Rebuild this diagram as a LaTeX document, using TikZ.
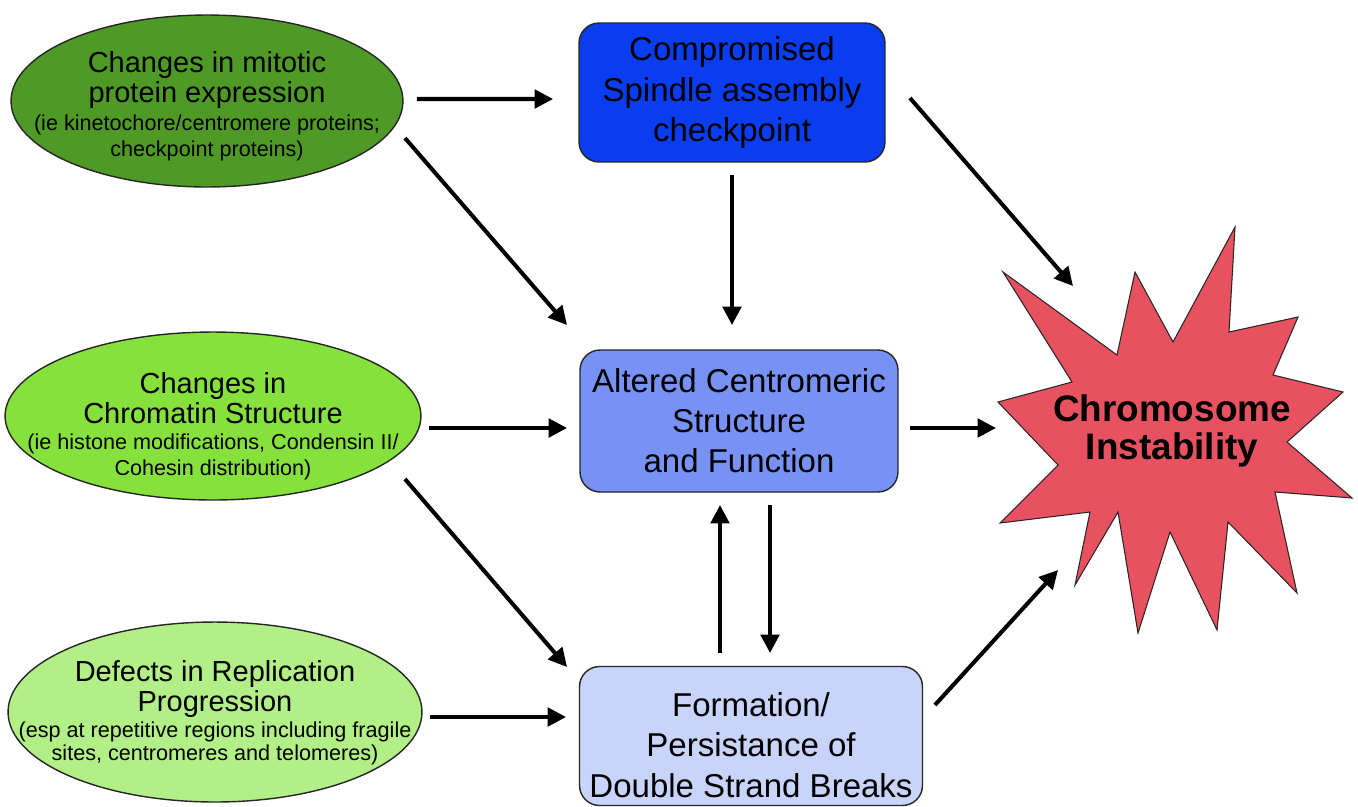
\documentclass[tikz,border=0pt]{standalone}
\usepackage{fontspec}
\setmainfont{Liberation Sans}
\usetikzlibrary{positioning, shapes, arrows.meta}

\definecolor{mitoticgreen}{RGB}{79,153,38}
\definecolor{chromatingreen}{RGB}{135,225,60}
\definecolor{replicationgreen}{RGB}{178,240,135}
\definecolor{sacblue}{RGB}{10,60,240}
\definecolor{centroblue}{RGB}{120,145,245}
\definecolor{dsbblue}{RGB}{200,212,250}
\definecolor{cinred}{RGB}{232,82,96}

\tikzset{
  cause/.style={ellipse, draw=black!85, line width=0.8pt, outer sep=0pt},
  causetext/.style={align=center, inner sep=0pt, font=\fontsize{16.5}{17.5}\selectfont},
  causenote/.style={align=center, inner sep=0pt, font=\fontsize{12.3}{14.5}\selectfont},
  effect/.style={rectangle, rounded corners=0.4cm, draw=black!85, line width=0.8pt, outer sep=0pt,
    align=center, inner sep=1pt, font=\fontsize{18.8}{22.8}\selectfont},
  burst/.style={draw=black!85, line width=0.6pt, fill=cinred, line join=miter},
  arr/.style={line width=2.3pt, -{Triangle[length=10.5pt, width=10.5pt]}}
}

\begin{document}
\begin{tikzpicture}[x=0.02cm, y=-0.02cm]
  \useasboundingbox (0,0) rectangle (1358,806);

  % causes (left column)
  \node[cause, fill=mitoticgreen, minimum width=7.84cm, minimum height=3.44cm] (e1) at (207,101) {};
  \node[cause, fill=chromatingreen, minimum width=8.32cm, minimum height=3.36cm] (e2) at (213,416) {};
  \node[cause, fill=replicationgreen, minimum width=8.28cm, minimum height=3.6cm] (e3) at (215,712) {};

  \node[causetext] (e1main) at (207,80) {Changes in mitotic\\protein expression};
  \node[causenote] (e1note) at (207,138) {(ie kinetochore/centromere proteins;\\checkpoint proteins)};
  \node[causetext] (e2main) at (213,398) {Changes in\\Chromatin Structure};
  \node[causenote] (e2note) at (213,457) {(ie histone modifications, Condensin II/\\Cohesin distribution)};
  \node[causetext] (e3main) at (215,689) {Defects in Replication\\Progression};
  \node[causenote, font=\fontsize{12.3}{13}\selectfont] (e3note) at (215,743) {(esp at repetitive regions including fragile\\sites, centromeres and telomeres)};

  % effects (middle column)
  \node[effect, fill=sacblue, minimum width=6.12cm, minimum height=2.78cm] (sac) at (732,92.5) {Compromised\\Spindle assembly\\checkpoint};
  \node[effect, fill=centroblue, minimum width=6.36cm, minimum height=2.84cm] (acs) at (739,421) {Altered Centromeric\\Structure\\and Function};
  \node[effect, fill=dsbblue, minimum width=6.86cm, minimum height=2.78cm] (dsb) at (751,736) {\rule{0pt}{24pt}Formation/\\Persistance of\\Double Strand Breaks};

  % outcome
  \draw[burst] (1235,227) -- (1229,332) -- (1298,317) -- (1273,375) -- (1343,392) -- (1287,442)
    -- (1352,498) -- (1275,492) -- (1297,593) -- (1228,522) -- (1217,630) -- (1170,532)
    -- (1138,633) -- (1118,512) -- (1075,585) -- (1090,512) -- (1000,523) -- (1058,465)
    -- (998,402) -- (1072,382) -- (1003,272) -- (1117,355) -- (1135,272) -- (1173,342) -- cycle;
  \node[align=center, inner sep=0pt, font=\fontsize{21}{21.6}\selectfont\bfseries] (cin) at (1172,431) {Chromosome\\Instability};

  % arrows
  \draw[arr] ([shift={(14,-2)}]e1.east) -- ([shift={(-26,6.5)}]sac.west);
  \draw[arr] ([shift={(2,37)}]e1.east) -- ([shift={(-13,-25)}]acs.north west);
  \draw[arr] ([shift={(0,13)}]sac.south) -- ([shift={(-7,-25)}]acs.north);
  \draw[arr] ([shift={(25,5.5)}]sac.east) -- ([shift={(-99,-145)}]cin.center);
  \draw[arr] ([shift={(8,12)}]e2.east) -- ([shift={(-13,7)}]acs.west);
  \draw[arr] ([shift={(12,7)}]acs.east) -- ([shift={(-176,-3)}]cin.center);
  \draw[arr] ([shift={(-16,63)}]e2.east) -- ([shift={(-12.5,0.5)}]dsb.north west);
  \draw[arr] ([shift={(-31,-13.5)}]dsb.north) -- ([shift={(-19,13)}]acs.south);
  \draw[arr] ([shift={(31,13)}]acs.south) -- ([shift={(19,-13.5)}]dsb.north);
  \draw[arr] ([shift={(8,5)}]e3.east) -- ([shift={(-13.5,-19)}]dsb.west);
  \draw[arr] ([shift={(12.5,-31)}]dsb.east) -- ([shift={(-114,139)}]cin.center);
\end{tikzpicture}
\end{document}
